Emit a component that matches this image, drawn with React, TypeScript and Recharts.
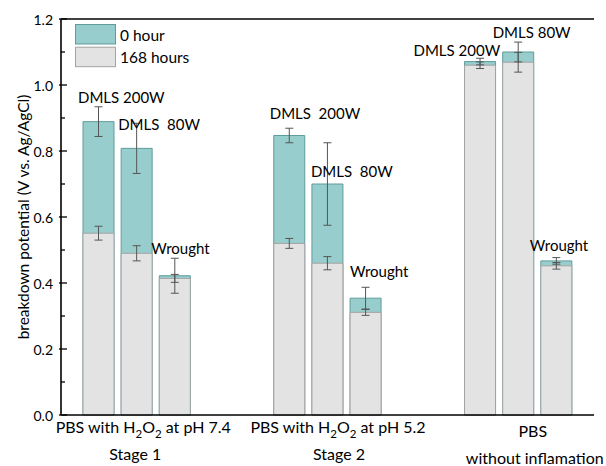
import React from 'react';
import { ComposedChart, Bar, XAxis, YAxis, ErrorBar, LabelList } from 'recharts';

// Breakdown potential per sample (V vs. Ag/AgCl), three samples per medium
const sampleNames = [
  'DMLS 200W', 'DMLS  80W', 'Wrought',
  'DMLS  200W', 'DMLS  80W', 'Wrought',
  'DMLS 200W', 'DMLS 80W', 'Wrought',
];
const hour0 = [0.889, 0.808, 0.422, 0.847, 0.700, 0.354, 1.071, 1.100, 0.467];
const hour0Err = [0.045, 0.076, 0.053, 0.022, 0.125, 0.033, 0.010, 0.030, 0.010];
const hour168 = [0.551, 0.490, 0.414, 0.520, 0.460, 0.311, 1.060, 1.069, 0.452];
const hour168Err = [0.021, 0.023, 0.012, 0.015, 0.020, 0.009, 0.010, 0.030, 0.010];

// Medium labels under each group (_2 marks a subscript)
const groupLine1 = ['PBS with H_2O_2 at pH 7.4', 'PBS with H_2O_2 at pH 5.2', 'PBS'];
const groupLine2 = ['Stage 1', 'Stage 2', 'without inflamation'];

const yTicks = [0, 0.1, 0.2, 0.3, 0.4, 0.5, 0.6, 0.7, 0.8, 0.9, 1.0, 1.1, 1.2];
const Y_MAX = 1.2;

const seriesNames = ['0 hour', '168 hours'];

// Annotation layout: [dx from bar left, dy from bar top] for each sample name
const labelOffsets = [
  [-5, -25], [-3, -24], [-8, -28],
  [-4, -22], [-1, -13], [0, -27],
  [-51, -12], [-10, -20], [-11, -16],
];
// Group caption shifts: [line1 dx, line2 dx, line1 dy, line2 dy]
const captionShift = [[7, -1, 0, 0], [11, 12, 0, 0], [15, 17, 4, 4]];

const TEAL = '#97cdcc';
const TEAL_EDGE = '#5f9c9b';
const GRAY = '#e3e3e3';
const GRAY_EDGE = '#a3a3a3';
const FONT = 'Lato, sans-serif';

// Chart layout
const WIDTH = 606;
const HEIGHT = 466;
const MARGIN = { top: 19, right: 12, bottom: 0, left: 0 };
const Y_AXIS_W = 61;

type Row = {
  slot: string;
  k?: number;
  h0?: number;
  e0?: number;
  h168?: number;
  e168?: number;
};

// Three bars per group, two empty slots between groups
const data: Row[] = [];
const middleSlot: Record<string, number> = {};
for (let g = 0; g < 3; g++) {
  for (let b = 0; b < 3; b++) {
    const k = g * 3 + b;
    const slot = `g${g}b${b}`;
    if (b === 1) middleSlot[slot] = g;
    data.push({
      slot,
      k,
      h0: hour0[k],
      e0: hour0Err[k],
      h168: hour168[k],
      e168: hour168Err[k],
    });
  }
  if (g < 2) {
    data.push({ slot: `gap${g}a` });
    data.push({ slot: `gap${g}b` });
  }
}

const renderSub = (text: string, size: number) => {
  const parts = text.split(/(_\d)/);
  const out: React.ReactNode[] = [];
  let lowered = false;
  parts.forEach((p, i) => {
    if (!p) return;
    if (p.startsWith('_')) {
      out.push(
        <tspan key={i} dy={lowered ? 0 : 5} fontSize={size * 0.72}>
          {p.slice(1)}
        </tspan>
      );
      lowered = true;
    } else {
      out.push(
        <tspan key={i} dy={lowered ? -5 : 0}>
          {p}
        </tspan>
      );
      lowered = false;
    }
  });
  return out;
};

const XTick = (props: any) => {
  const { x, y, payload } = props;
  const g = middleSlot[payload.value];
  if (g === undefined) return null;
  const [d1, d2, dy1, dy2] = captionShift[g];
  return (
    <g>
      <text x={x + d1} y={y + 18 + dy1} textAnchor="middle" fontFamily={FONT} fontSize={16} fill="#000">
        {renderSub(groupLine1[g], 16)}
      </text>
      <text x={x + d2} y={y + 44.5 + dy2} textAnchor="middle" fontFamily={FONT} fontSize={16} fill="#000">
        {groupLine2[g]}
      </text>
    </g>
  );
};

const YTick = (props: any) => {
  const { x, y, payload, index } = props;
  const major = index % 2 === 0;
  return (
    <g>
      <line x1={x - (major ? 2 : 0)} x2={x + (major ? 6 : 4)} y1={y} y2={y} stroke="#000" strokeWidth={1.3} />
      {major && (
        <text x={x - 8} y={y} textAnchor="end" dominantBaseline="central" fontFamily={FONT} fontSize={14} fill="#000">
          {payload.value.toFixed(1)}
        </text>
      )}
    </g>
  );
};

const YLabel = (props: any) => {
  const vb = props.viewBox || {};
  const cx = vb.x + 23;
  const cy = vb.y + vb.height / 2;
  return (
    <text
      x={cx}
      y={cy}
      transform={`rotate(-90 ${cx} ${cy})`}
      textAnchor="middle"
      dominantBaseline="central"
      fontFamily={FONT}
      fontSize={15.5}
      fill="#000"
    >
      breakdown potential (V vs. Ag/AgCl)
    </text>
  );
};

const SampleLabel = (props: any) => {
  const { x, y, value } = props;
  const k = Number(value);
  if (!Number.isFinite(k) || x === undefined) return null;
  const [dx, dy] = labelOffsets[k];
  return (
    <text
      x={x + dx}
      y={y + dy}
      dominantBaseline="central"
      fontFamily={FONT}
      fontSize={15}
      fill="#000"
      style={{ whiteSpace: 'pre' }}
    >
      {sampleNames[k]}
    </text>
  );
};

// Top edge of the plot frame (the other three sides are axis lines)
const FrameTop = () => (
  <line
    x1={MARGIN.left + Y_AXIS_W}
    x2={WIDTH - MARGIN.right}
    y1={MARGIN.top}
    y2={MARGIN.top}
    stroke="#000"
    strokeWidth={1.6}
  />
);

// Legend box drawn in the top-left corner of the plot
const ChartLegend = () => {
  const colors = [
    [TEAL, TEAL_EDGE],
    [GRAY, GRAY_EDGE],
  ];
  return (
    <g>
      {seriesNames.map((n, i) => (
        <g key={n} transform={`translate(75, ${24 + i * 22.7})`}>
          <rect x={0.5} y={0.5} width={40} height={19.5} fill={colors[i][0]} stroke={colors[i][1]} />
          <text x={45} y={10.5} dominantBaseline="central" fontFamily={FONT} fontSize={15.5} fill="#000">
            {n}
          </text>
        </g>
      ))}
    </g>
  );
};

const pad = { left: 18, right: 19 };

export default function App() {
  return (
    <div style={{ position: 'absolute', left: 0, top: 0, background: '#fff' }}>
      <ComposedChart width={WIDTH} height={HEIGHT} data={data} margin={MARGIN} barGap={0}>
        <XAxis
          xAxisId="bottom"
          dataKey="slot"
          type="category"
          padding={pad}
          height={51}
          interval={0}
          tickLine={false}
          tickSize={0}
          tickMargin={0}
          axisLine={{ stroke: '#000', strokeWidth: 1.6 }}
          tick={<XTick />}
        />
        <XAxis xAxisId="under" dataKey="slot" type="category" padding={pad} hide />
        <XAxis xAxisId="over" dataKey="slot" type="category" padding={pad} hide />
        <YAxis
          yAxisId="left"
          width={Y_AXIS_W}
          domain={[0, Y_MAX]}
          ticks={yTicks}
          interval={0}
          tickLine={false}
          tickSize={0}
          tickMargin={0}
          axisLine={{ stroke: '#000', strokeWidth: 1.6 }}
          tick={<YTick />}
          label={<YLabel />}
        />
        <YAxis
          yAxisId="right"
          orientation="right"
          width={0}
          domain={[0, Y_MAX]}
          tick={false}
          tickLine={false}
          axisLine={{ stroke: '#000', strokeWidth: 1.6 }}
        />
        <Bar
          xAxisId="under"
          yAxisId="left"
          dataKey="h0"
          name={seriesNames[0]}
          barSize={31}
          fill={TEAL}
          stroke={TEAL_EDGE}
          strokeWidth={1}
          isAnimationActive={false}
        />
        <Bar
          xAxisId="bottom"
          yAxisId="left"
          dataKey="h168"
          name={seriesNames[1]}
          barSize={31}
          fill={GRAY}
          stroke={GRAY_EDGE}
          strokeWidth={1}
          isAnimationActive={false}
        >
          <ErrorBar dataKey="e168" direction="y" width={4} stroke="#555" strokeWidth={1} />
        </Bar>
        <Bar
          xAxisId="over"
          yAxisId="left"
          dataKey="h0"
          barSize={31}
          fill="none"
          stroke="none"
          legendType="none"
          isAnimationActive={false}
        >
          <ErrorBar dataKey="e0" direction="y" width={4} stroke="#555" strokeWidth={1} />
          <LabelList dataKey="k" content={<SampleLabel />} />
        </Bar>
        <FrameTop />
        <ChartLegend />
      </ComposedChart>
    </div>
  );
}
